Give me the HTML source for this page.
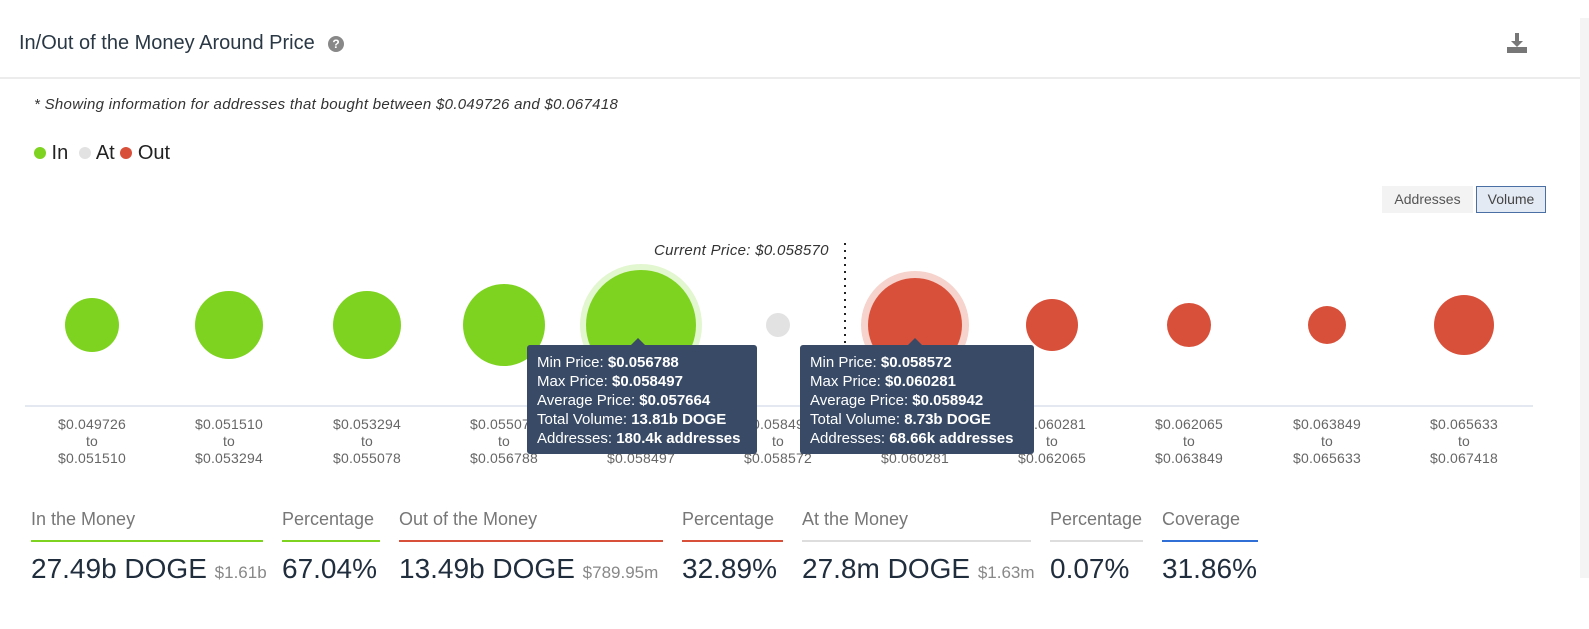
<!DOCTYPE html>
<html><head><meta charset="utf-8"><style>
body{margin:0;width:1589px;height:629px;background:#fff;font-family:"Liberation Sans",sans-serif;position:relative;overflow:hidden;color:#1f2d3d}
.a{position:absolute;white-space:nowrap}
.lbl{position:absolute;width:130px;text-align:center;font-size:14px;line-height:17px;color:#666;letter-spacing:0.2px}
.tt{position:absolute;background:#384a66;color:#fff;font-size:15px;line-height:19px;padding:8px 10px;border-radius:3px;top:345px;height:93px}
.tt b{font-weight:bold}
.sl{position:absolute;top:509px;font-size:18px;color:#777;padding-bottom:10px;border-bottom:2px solid}
.sv{position:absolute;top:553px;font-size:28px;color:#1f2d3d}
.sv small{font-size:17px;color:#888}
</style></head><body>
<div class="a" style="left:1580px;top:18px;width:9px;height:560px;background:#f4f4f4"></div>
<div class="a" style="left:19px;top:32px;font-size:20px;color:#2a3845">In/Out of the Money Around Price</div>
<div class="a" style="left:328px;top:36px;width:16px;height:16px;border-radius:50%;background:#888;color:#fff;font-size:12px;font-weight:bold;text-align:center;line-height:16px">?</div>
<svg class="a" style="left:1506px;top:32px" width="22" height="22"><path d="M9 1h4v8h4l-6 6-6-6h4z" fill="#777"/><rect x="1" y="15" width="20" height="6" fill="#777"/></svg>
<div class="a" style="left:0;top:77px;width:1580px;height:2px;background:#ececec"></div>
<div class="a" style="left:34px;top:96px;font-size:15px;letter-spacing:0.3px;font-style:italic;color:#333">* Showing information for addresses that bought between $0.049726 and $0.067418</div>
<div class="a" style="left:34px;top:142px;font-size:20px;color:#222"><span style="display:inline-block;width:12px;height:12px;border-radius:50%;background:#7ed321"></span> In &nbsp;<span style="display:inline-block;width:12px;height:12px;border-radius:50%;background:#e2e2e2"></span> At <span style="display:inline-block;width:12px;height:12px;border-radius:50%;background:#d9503a"></span> Out</div>
<div class="a" style="left:1382px;top:186px;width:91px;height:27px;background:#f3f3f3;font-size:14px;color:#555;text-align:center;line-height:27px">Addresses</div>
<div class="a" style="left:1476px;top:186px;width:68px;height:25px;background:#e4eaf4;border:1px solid #4a6fa5;font-size:14px;color:#444;text-align:center;line-height:25px">Volume</div>
<div class="a" style="left:654px;top:242px;font-size:15px;letter-spacing:0.3px;font-style:italic;color:#333">Current Price: $0.058570</div>
<svg class="a" style="left:0;top:0" width="1589" height="629">
<line x1="845" y1="243" x2="845" y2="345" stroke="#222" stroke-width="2" stroke-dasharray="2,5"/>
<line x1="25" y1="406" x2="1533" y2="406" stroke="#c8d0e0"/>
<circle cx="92" cy="325" r="27" fill="#7ed321"/>
<circle cx="229" cy="325" r="34" fill="#7ed321"/>
<circle cx="367" cy="325" r="34" fill="#7ed321"/>
<circle cx="504" cy="325" r="41" fill="#7ed321"/>
<circle cx="641" cy="325" r="61" fill="#e2f6cf"/>
<circle cx="641" cy="325" r="55" fill="#7ed321"/>
<circle cx="778" cy="325" r="12" fill="#e2e2e2"/>
<circle cx="915" cy="325" r="54" fill="#f6d3cc"/>
<circle cx="915" cy="325" r="47" fill="#d9503a"/>
<circle cx="1052" cy="325" r="26" fill="#d9503a"/>
<circle cx="1189" cy="325" r="22" fill="#d9503a"/>
<circle cx="1327" cy="325" r="19" fill="#d9503a"/>
<circle cx="1464" cy="325" r="30" fill="#d9503a"/>
</svg>
<div class="lbl" style="left:27px;top:416px">$0.049726<br>to<br>$0.051510</div>
<div class="lbl" style="left:164px;top:416px">$0.051510<br>to<br>$0.053294</div>
<div class="lbl" style="left:302px;top:416px">$0.053294<br>to<br>$0.055078</div>
<div class="lbl" style="left:439px;top:416px">$0.055078<br>to<br>$0.056788</div>
<div class="lbl" style="left:576px;top:416px">$0.056788<br>to<br>$0.058497</div>
<div class="lbl" style="left:713px;top:416px">$0.058497<br>to<br>$0.058572</div>
<div class="lbl" style="left:850px;top:416px">$0.058572<br>to<br>$0.060281</div>
<div class="lbl" style="left:987px;top:416px">$0.060281<br>to<br>$0.062065</div>
<div class="lbl" style="left:1124px;top:416px">$0.062065<br>to<br>$0.063849</div>
<div class="lbl" style="left:1262px;top:416px">$0.063849<br>to<br>$0.065633</div>
<div class="lbl" style="left:1399px;top:416px">$0.065633<br>to<br>$0.067418</div>
<div class="tt" style="left:527px;width:210px">Min Price: <b>$0.056788</b><br>Max Price: <b>$0.058497</b><br>Average Price: <b>$0.057664</b><br>Total Volume: <b>13.81b DOGE</b><br>Addresses: <b>180.4k addresses</b></div>
<div class="tt" style="left:800px;width:214px">Min Price: <b>$0.058572</b><br>Max Price: <b>$0.060281</b><br>Average Price: <b>$0.058942</b><br>Total Volume: <b>8.73b DOGE</b><br>Addresses: <b>68.66k addresses</b></div>
<svg class="a" style="left:0;top:0" width="1589" height="400"><polygon points="630,346 638,338 646,346" fill="#384a66"/><polygon points="907,346 915,338 923,346" fill="#384a66"/></svg>
<div class="sl" style="left:31px;width:232px;border-color:#7ed321">In the Money</div>
<div class="sl" style="left:282px;width:98px;border-color:#7ed321">Percentage</div>
<div class="sl" style="left:399px;width:264px;border-color:#d9503a">Out of the Money</div>
<div class="sl" style="left:682px;width:101px;border-color:#d9503a">Percentage</div>
<div class="sl" style="left:802px;width:229px;border-color:#ddd">At the Money</div>
<div class="sl" style="left:1050px;width:93px;border-color:#ddd">Percentage</div>
<div class="sl" style="left:1162px;width:96px;border-color:#2f6fd6">Coverage</div>
<div class="sv" style="left:31px">27.49b DOGE <small>$1.61b</small></div>
<div class="sv" style="left:282px">67.04%</div>
<div class="sv" style="left:399px">13.49b DOGE <small>$789.95m</small></div>
<div class="sv" style="left:682px">32.89%</div>
<div class="sv" style="left:802px">27.8m DOGE <small>$1.63m</small></div>
<div class="sv" style="left:1050px">0.07%</div>
<div class="sv" style="left:1162px">31.86%</div>
</body></html>
